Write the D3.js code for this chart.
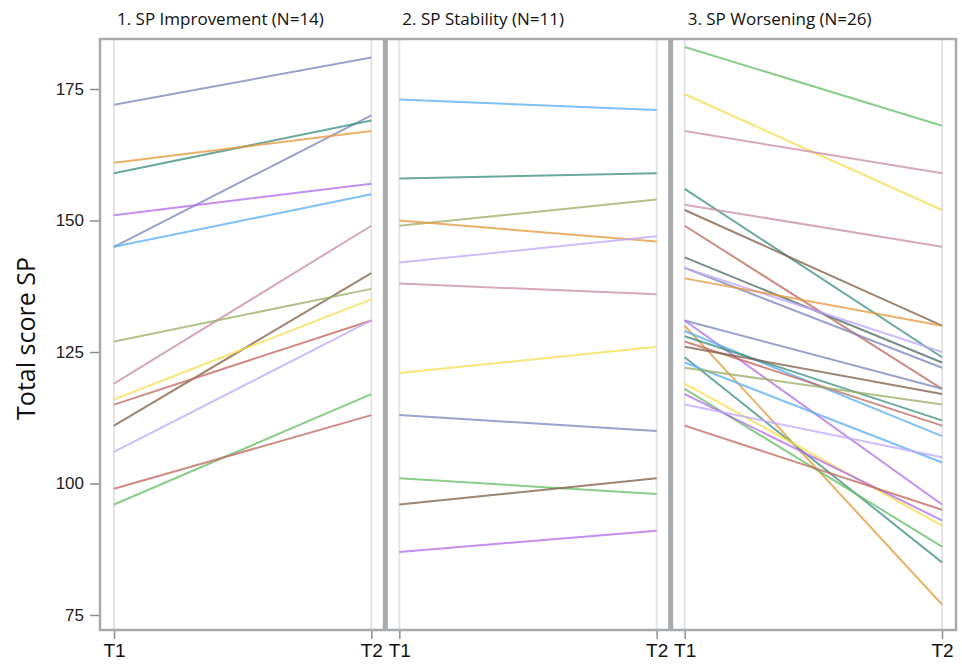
<!DOCTYPE html>
<html>
<head>
<meta charset="utf-8">
<script src="https://cdn.jsdelivr.net/npm/d3@7"></script>
<style>
  body { margin: 0; background: #fff; }
</style>
</head>
<body>
<div id="viz"></div>
<script>
// panel titles and time points
let groups = ["1. SP Improvement (N=14)", "2. SP Stability (N=11)", "3. SP Worsening (N=26)"];
let timepoints = ["T1", "T2"];
let yTicks = [75, 100, 125, 150, 175];

// 1. improvement
let impT1 = [172, 145, 159, 161, 151, 145, 119, 111, 127, 116, 115, 106, 96, 99];
let impT2 = [181, 170, 169, 167, 157, 155, 149, 140, 137, 135, 131, 131, 117, 113];
let impCol = ["grayblue", "grayblue", "teal", "orange", "purple", "lightblue", "pink", "brown", "olive", "yellow", "red", "lavender", "green", "red"];

// 2. stability
let stabT1 = [173, 158, 149, 150, 142, 138, 121, 113, 101, 96, 87];
let stabT2 = [171, 159, 154, 146, 147, 136, 126, 110, 98, 101, 91];
let stabCol = ["lightblue", "teal", "olive", "orange", "lavender", "pink", "yellow", "grayblue", "green", "brown", "purple"];

// 3. worsening
let worT1 = [183, 174, 167, 156, 153, 152, 149, 143, 141, 141, 139, 131, 131, 130, 129, 128, 127, 126, 124, 123, 122, 119, 118, 117, 115, 111];
let worT2 = [168, 152, 159, 124, 145, 130, 118, 123, 122, 125, 130, 118, 96, 77, 109, 112, 111, 117, 85, 104, 115, 92, 88, 93, 105, 95];
let worCol = ["green", "yellow", "pink", "teal", "pink", "brown", "red", "darkslate", "grayblue", "lavender", "orange", "grayblue", "purple", "orange", "lightblue", "teal", "red", "brown", "teal", "lightblue", "olive", "yellow", "green", "purple", "lavender", "red"];

let palette = {
    grayblue: "#7d86bf",
    teal: "#3f8f80",
    orange: "#e49a3c",
    purple: "#b26ee8",
    lightblue: "#5aaef5",
    pink: "#cc8fa8",
    brown: "#80624a",
    olive: "#9cb068",
    yellow: "#f7dc50",
    red: "#c06a60",
    lavender: "#c0a8fc",
    green: "#68bf68",
    darkslate: "#4f6e66"
};

let width = 962, height = 668;
let frame = {left: 100, right: 956, top: 39, bottom: 630};
let frameColor = "#a7abae";

// build per panel subject lists
let series = [[impT1, impT2, impCol], [stabT1, stabT2, stabCol], [worT1, worT2, worCol]];
let panels = groups.map((g, i) => ({
    name: g,
    subjects: series[i][0].map((v, j) => ({t1: v, t2: series[i][1][j], col: series[i][2][j]}))
}));

let svg = d3.select("#viz")
    .append("svg")
    .attr("width", width)
    .attr("height", height);

let y = d3.scaleLinear().domain([75, 175]).range([615, 89]);

let band = d3.scaleBand()
    .domain(groups)
    .range([frame.left, frame.right])
    .paddingInner(0);

let bw = band.bandwidth();
let x = d3.scalePoint().domain(timepoints).range([14, bw - 14]);

let line = d3.line()
    .x(d => x(d.t))
    .y(d => y(d.v));

let panel = svg.selectAll(".panel")
    .data(panels)
    .enter()
    .append("g")
    .attr("class", "panel")
    .attr("transform", d => "translate(" + band(d.name) + ",0)");

// light grid lines at T1 and T2
panel.selectAll(".grid")
    .data(timepoints)
    .enter()
    .append("line")
    .attr("x1", d => x(d))
    .attr("x2", d => x(d))
    .attr("y1", frame.top)
    .attr("y2", frame.bottom)
    .attr("stroke", "#e4e4e4")
    .attr("stroke-width", 2);

// subject lines
panel.selectAll(".subj")
    .data(d => d.subjects)
    .enter()
    .append("path")
    .attr("d", d => line([{t: "T1", v: d.t1}, {t: "T2", v: d.t2}]))
    .attr("fill", "none")
    .attr("stroke", d => palette[d.col])
    .attr("stroke-width", 2)
    .attr("stroke-opacity", 0.78);

// panel titles
panel.append("text")
    .attr("x", 17)
    .attr("y", 25)
    .style("font-family", "'Open Sans', sans-serif")
    .style("font-size", "17px")
    .style("fill", "#111")
    .text(d => d.name);

// x axis per panel
panel.append("g")
    .attr("transform", "translate(0," + (frame.bottom + 1) + ")")
    .call(d3.axisBottom(x).tickSize(8).tickPadding(5))
    .call(g => g.select(".domain").remove())
    .call(g => g.selectAll(".tick line").attr("stroke", "#8a8d90").attr("stroke-width", 1.5))
    .call(g => g.selectAll(".tick text")
        .attr("font-family", "'Liberation Sans', Arial, sans-serif")
        .attr("font-size", 19)
        .attr("fill", "#111"));

// frame and dividers
svg.append("rect")
    .attr("x", frame.left)
    .attr("y", frame.top)
    .attr("width", frame.right - frame.left)
    .attr("height", frame.bottom - frame.top)
    .attr("fill", "none")
    .attr("stroke", frameColor)
    .attr("stroke-width", 2.5);

svg.selectAll(".divider")
    .data(groups.slice(1))
    .enter()
    .append("rect")
    .attr("x", d => band(d) - 2.5)
    .attr("y", frame.top)
    .attr("width", 5)
    .attr("height", frame.bottom - frame.top)
    .attr("fill", frameColor);

// y axis
svg.append("g")
    .attr("transform", "translate(" + (frame.left - 1) + ",0)")
    .call(d3.axisLeft(y).tickValues(yTicks).tickSize(9).tickPadding(6))
    .call(g => g.select(".domain").remove())
    .call(g => g.selectAll(".tick line").attr("stroke", "#8a8d90").attr("stroke-width", 1.5))
    .call(g => g.selectAll(".tick text")
        .attr("font-family", "'Liberation Sans', Arial, sans-serif")
        .attr("font-size", 17)
        .attr("fill", "#222"));

svg.append("text")
    .attr("transform", "translate(35," + ((frame.top + frame.bottom) / 2 + 4) + ") rotate(-90)")
    .attr("text-anchor", "middle")
    .style("font-family", "'Open Sans', sans-serif")
    .style("font-size", "25px")
    .style("fill", "#111")
    .text("Total score SP");
</script>
</body>
</html>
